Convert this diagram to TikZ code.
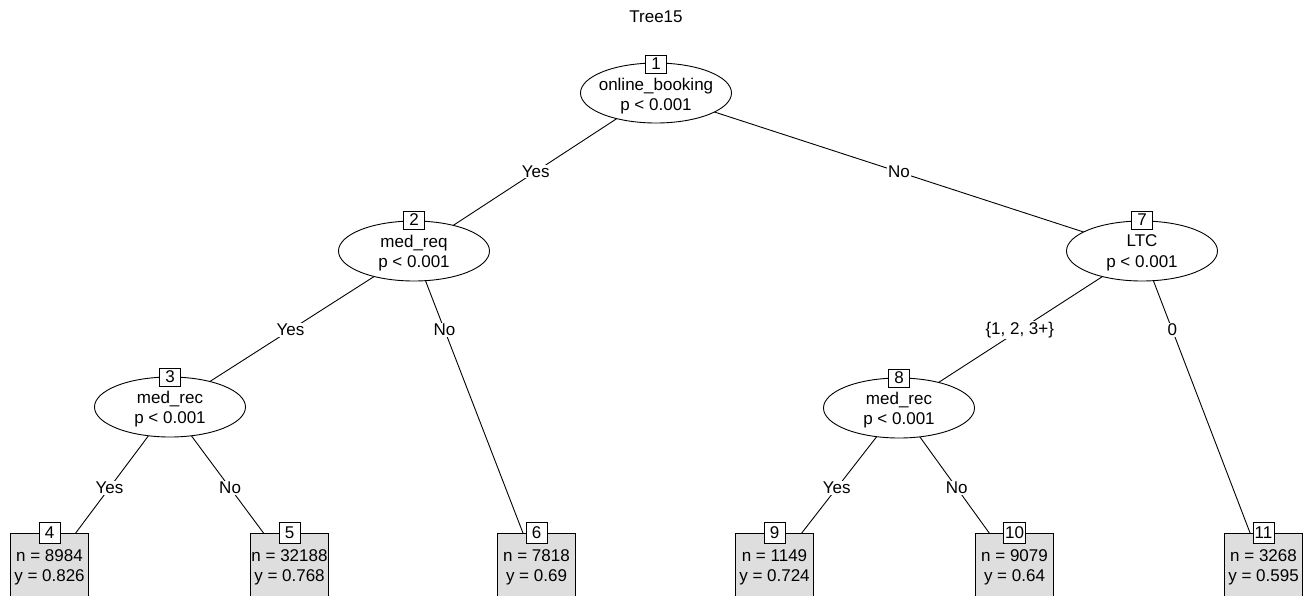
\documentclass[tikz,border=0pt]{standalone}
\usepackage{fontspec}
\setmainfont{Liberation Sans}
\usetikzlibrary{shapes.geometric,backgrounds}
\definecolor{leafgray}{RGB}{222,222,222}
\begin{document}
\begin{tikzpicture}[x=1pt,y=-1pt,
  every node/.style={font=\fontsize{17}{20.5}\selectfont},
  splitnode/.style={ellipse, draw, fill=white, line width=0.9pt, minimum width=151pt, minimum height=60pt, inner sep=0pt},
  splittext/.style={align=center, inner sep=0pt},
  idbox/.style={draw, fill=white, line width=0.9pt, minimum width=21pt, minimum height=18pt, inner sep=1.5pt},
  leafid/.style={idbox, minimum height=21pt},
  leafbox/.style={draw, fill=leafgray, line width=0.9pt, minimum width=78pt, minimum height=70pt, inner sep=0pt},
  leaftext/.style={align=center, inner sep=0pt},
  conn/.style={line width=0.9pt},
  elabel/.style={fill=white, inner sep=1pt}]
\useasboundingbox (0,0) rectangle (1312,595);

% title
\node (title) at (656,17) {Tree15};

% inner nodes
\node[splitnode] (n1) at (656,93) {};
\node[splittext] (t1) at (656,96) {online\_booking\\p < 0.001};
\node[idbox] (b1) at (656,64) {1};

\node[splitnode] (n2) at (414,251) {};
\node[splittext] (t2) at (414,253) {med\_req\\p < 0.001};
\node[idbox] (b2) at (414,220) {2};

\node[splitnode] (n7) at (1142,251) {};
\node[splittext] (t7) at (1142,253) {LTC\\p < 0.001};
\node[idbox] (b7) at (1142,220) {7};

\node[splitnode] (n3) at (170,407) {};
\node[splittext] (t3) at (170,409) {med\_rec\\p < 0.001};
\node[idbox] (b3) at (170,377) {3};

\node[splitnode] (n8) at (899,408) {};
\node[splittext] (t8) at (899,410) {med\_rec\\p < 0.001};
\node[idbox] (b8) at (899,378) {8};

% leaves
\node[leafbox] (L4) at (49.5,568) {};
\node[leaftext] (s4) at (49.5,567.5) {n = 8984\\y = 0.826};
\node[leafid] (c4) at (49.5,533) {4};

\node[leafbox] (L5) at (289.5,568) {};
\node[leaftext] (s5) at (289.5,567.5) {n = 32188\\y = 0.768};
\node[leafid] (c5) at (289.5,533) {5};

\node[leafbox] (L6) at (536.5,568) {};
\node[leaftext] (s6) at (536.5,567.5) {n = 7818\\y = 0.69};
\node[leafid] (c6) at (536.5,533) {6};

\node[leafbox] (L9) at (774.5,568) {};
\node[leaftext] (s9) at (774.5,567.5) {n = 1149\\y = 0.724};
\node[leafid] (c9) at (774.5,533) {9};

\node[leafbox] (L10) at (1014.5,568) {};
\node[leaftext] (s10) at (1014.5,567.5) {n = 9079\\y = 0.64};
\node[leafid] (c10) at (1014.5,533) {10};

\node[leafbox] (L11) at (1263.5,568) {};
\node[leaftext] (s11) at (1263.5,567.5) {n = 3268\\y = 0.595};
\node[leafid] (c11) at (1263.5,533) {11};

% connectors behind the nodes
\begin{scope}[on background layer]
\draw[conn] (n1.center) -- (n2.center) node[elabel,pos=0.497] {Yes};
\draw[conn] (n1.center) -- (n7.center) node[elabel,pos=0.5] {No};
\draw[conn] (n2.center) -- (n3.center) node[elabel,pos=0.506] {Yes};
\draw[conn] (n2.center) -- (L6.center) node[elabel,pos=0.249] {No};
\draw[conn] (n7.center) -- (n8.center) node[elabel,pos=0.503] {\{1, 2, 3+\}};
\draw[conn] (n7.center) -- (L11.center) node[elabel,pos=0.249] {0};
\draw[conn] (n3.center) -- (L4.center) node[elabel,pos=0.503] {Yes};
\draw[conn] (n3.center) -- (L5.center) node[elabel,pos=0.503] {No};
\draw[conn] (n8.center) -- (L9.center) node[elabel,pos=0.5] {Yes};
\draw[conn] (n8.center) -- (L10.center) node[elabel,pos=0.5] {No};
\end{scope}
\end{tikzpicture}
\end{document}
